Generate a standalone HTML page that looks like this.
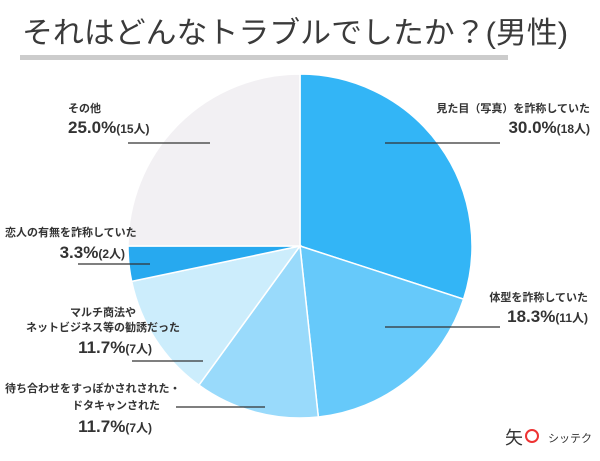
<!DOCTYPE html>
<html><head><meta charset="utf-8"><style>
html,body{margin:0;padding:0;background:#fff;}
body{width:600px;height:456px;overflow:hidden;font-family:"Liberation Sans","Noto Sans CJK JP",sans-serif;}
svg text{font-family:"Liberation Sans","Noto Sans CJK JP",sans-serif;fill:#333;}
</style></head><body>
<svg width="600" height="456" viewBox="0 0 600 456">
<text x="22" y="43" font-size="30" textLength="546" lengthAdjust="spacingAndGlyphs" style="fill:#3a3a3a">それはどんなトラブルでしたか？(男性)</text>
<rect x="20" y="55" width="488" height="5" fill="#cccccc"/>
<g id="slices"></g>
<g>
<text x="68" y="112" font-size="11" font-weight="bold">その他</text>
<text x="68" y="133" font-size="17" font-weight="bold">25.0%<tspan font-size="12">(15人)</tspan></text>
<line x1="128" y1="143" x2="210" y2="143" stroke="#333" stroke-width="1.2"/></g>
<g>
<text x="590" y="112" font-size="11" font-weight="bold" text-anchor="end">見た目（写真）を詐称していた</text>
<text x="590" y="133" font-size="17" font-weight="bold" text-anchor="end">30.0%<tspan font-size="12">(18人)</tspan></text>
<line x1="385" y1="143" x2="500" y2="143" stroke="#333" stroke-width="1.2"/></g>
<g>
<text x="588" y="301" font-size="11" font-weight="bold" text-anchor="end">体型を詐称していた</text>
<text x="588" y="322" font-size="17" font-weight="bold" text-anchor="end">18.3%<tspan font-size="12">(11人)</tspan></text>
<line x1="385" y1="327" x2="500" y2="327" stroke="#333" stroke-width="1.2"/></g>
<g>
<text x="5" y="236" font-size="11" font-weight="bold">恋人の有無を詐称していた</text>
<text x="125" y="258" font-size="17" font-weight="bold" text-anchor="end">3.3%<tspan font-size="12">(2人)</tspan></text>
<line x1="78" y1="264" x2="150" y2="264" stroke="#333" stroke-width="1.2"/></g>
<g>
<text x="103" y="316" font-size="11" font-weight="bold" text-anchor="middle">マルチ商法や</text>
<text x="103" y="331" font-size="11" font-weight="bold" text-anchor="middle">ネットビジネス等の勧誘だった</text>
<text x="152" y="353" font-size="17" font-weight="bold" text-anchor="end">11.7%<tspan font-size="12">(7人)</tspan></text>
<line x1="132" y1="361" x2="203" y2="361" stroke="#333" stroke-width="1.2"/></g>
<g>
<text x="5" y="392" font-size="11" font-weight="bold">待ち合わせをすっぽかされされた・</text>
<text x="160" y="409" font-size="11" font-weight="bold" text-anchor="end">ドタキャンされた</text>
<text x="152" y="432" font-size="17" font-weight="bold" text-anchor="end">11.7%<tspan font-size="12">(7人)</tspan></text>
<line x1="176" y1="407" x2="265" y2="407" stroke="#333" stroke-width="1.2"/></g>
<g>
<text x="505" y="444" font-size="18" fill="#111">矢</text>
<circle cx="532" cy="436" r="6" fill="none" stroke="#e33" stroke-width="2"/>
<text x="548" y="442" font-size="11" fill="#111">シッテク</text></g>
</svg>
<script>
const categories=["見た目（写真）を詐称していた","体型を詐称していた","待ち合わせをすっぽかされた・ドタキャンされた","マルチ商法やネットビジネス等の勧誘だった","恋人の有無を詐称していた","その他"];
const values=[30.0,18.3,11.7,11.7,3.3,25.0];
const colors=["#33b5f6","#66c9fa","#99dafb","#ccedfc","#27a9ef","#f2f0f3"];
const cx=300,cy=246,r=172;
const g=document.getElementById('slices');
const total=values.reduce((a,b)=>a+b,0);
let a0=0;
values.forEach((v,i)=>{
  const a1=a0+v/total*2*Math.PI;
  const x0=cx+r*Math.sin(a0),y0=cy-r*Math.cos(a0),x1=cx+r*Math.sin(a1),y1=cy-r*Math.cos(a1);
  const p=document.createElementNS('http://www.w3.org/2000/svg','path');
  p.setAttribute('d',`M${cx},${cy}L${x0},${y0}A${r},${r} 0 ${a1-a0>Math.PI?1:0} 1 ${x1},${y1}Z`);
  p.setAttribute('fill',colors[i]);
  p.setAttribute('stroke','#fff');
  p.setAttribute('stroke-width','1.5');
  
  
  g.appendChild(p);
  a0=a1;
});
</script>
</body></html>
